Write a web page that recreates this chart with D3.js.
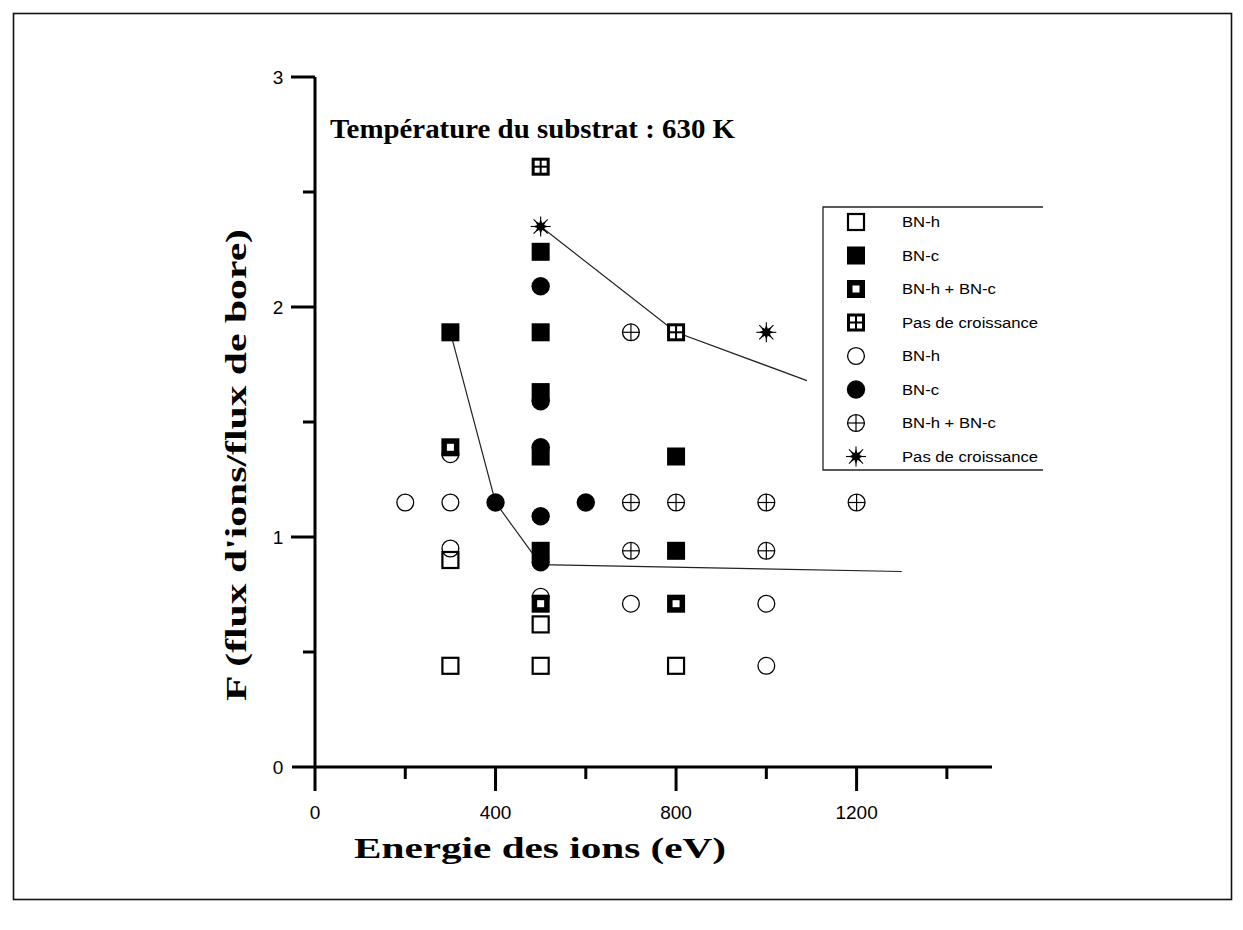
<!DOCTYPE html>
<html>
<head>
<meta charset="utf-8">
<script src="https://cdn.jsdelivr.net/npm/d3@7/dist/d3.min.js"></script>
<style>
  html, body { margin: 0; padding: 0; background: #fff; }
  svg { display: block; }
</style>
</head>
<body>
<svg id="chart" width="1243" height="930"></svg>
<script>
// ---------- data ----------
const xTicksMajor = [0, 400, 800, 1200];
const xTicksMinor = [200, 600, 1000, 1400];
const yTicksMajor = [0, 1, 2, 3];
const yTicksMinor = [0.5, 1.5, 2.5];

// squares
const bnhSquare   = [[300,0.44],[300,0.90],[500,0.44],[500,0.62],[800,0.44]];
const bncSquare   = [[300,1.89],[500,2.24],[500,1.89],[500,1.63],[500,1.35],[500,0.94],[800,1.35],[800,0.94]];
const mixSquare   = [[300,1.39],[500,0.71],[800,0.71]];
const noneSquare  = [[500,2.61],[800,1.89]];
// circles
const bnhCircle   = [[200,1.15],[300,1.15],[300,1.36],[300,0.95],[500,0.74],[700,0.71],[1000,0.71],[1000,0.44]];
const bncCircle   = [[400,1.15],[500,2.09],[500,1.59],[500,1.39],[500,1.09],[500,0.89],[600,1.15]];
const mixCircle   = [[700,1.89],[700,1.15],[800,1.15],[1000,1.15],[1200,1.15],[700,0.94],[1000,0.94]];
const noneStar    = [[500,2.35],[1000,1.89]];
// boundary lines
const upperLine = [[500,2.35],[800,1.89],[1090,1.68]];
const lowerLine = [[300,1.89],[400,1.15],[500,0.88],[1300,0.85]];

const legendLabels = ["BN-h","BN-c","BN-h + BN-c","Pas de croissance","BN-h","BN-c","BN-h + BN-c","Pas de croissance"];
const legendSymbols = ["bnhSquare","bncSquare","mixSquare","noneSquare","bnhCircle","bncCircle","mixCircle","noneStar"];

const titleText = "Température du substrat : 630 K";
const xLabel = "Energie des ions (eV)";
const yLabel = "F (flux d'ions/flux de bore)";

// ---------- layout ----------
const svg = d3.select("#chart");
const x = d3.scaleLinear().domain([0, 1500]).range([315, 992]);
const y = d3.scaleLinear().domain([0, 3]).range([767, 77]);

const SERIF = "'Liberation Serif','Times New Roman',serif";
const SANS = "'Liberation Sans',Arial,sans-serif";

// outer frame
svg.append("rect").attr("x", 13.5).attr("y", 13.5).attr("width", 1218).attr("height", 886)
  .attr("fill", "none").attr("stroke", "#111").attr("stroke-width", 1.6);

// ---------- axes ----------
const axisG = svg.append("g").attr("stroke", "#000").attr("stroke-width", 3).attr("stroke-linecap", "butt");
axisG.append("line").attr("x1", x(0)).attr("x2", x(0)).attr("y1", y(3)).attr("y2", y(0) + 24);
axisG.append("line").attr("x1", x(0) - 23).attr("x2", x(1500)).attr("y1", y(0)).attr("y2", y(0));

axisG.selectAll(".ymaj").data(yTicksMajor.filter(d => d > 0)).join("line")
  .attr("x1", x(0) - 24).attr("x2", x(0)).attr("y1", d => y(d)).attr("y2", d => y(d));
axisG.selectAll(".ymin").data(yTicksMinor).join("line")
  .attr("x1", x(0) - 12).attr("x2", x(0)).attr("y1", d => y(d)).attr("y2", d => y(d));
axisG.selectAll(".xmaj").data(xTicksMajor.filter(d => d > 0)).join("line")
  .attr("x1", d => x(d)).attr("x2", d => x(d)).attr("y1", y(0)).attr("y2", y(0) + 24);
axisG.selectAll(".xmin").data(xTicksMinor).join("line")
  .attr("x1", d => x(d)).attr("x2", d => x(d)).attr("y1", y(0)).attr("y2", y(0) + 12);

svg.append("g").selectAll("text").data(yTicksMajor).join("text")
  .attr("x", 278).attr("y", d => y(d)).attr("dy", "0.36em")
  .attr("text-anchor", "middle").attr("font-family", SANS).attr("font-size", 19)
  .text(d => d);
svg.append("g").selectAll("text").data(xTicksMajor).join("text")
  .attr("x", d => x(d)).attr("y", 812).attr("dy", "0.36em")
  .attr("text-anchor", "middle").attr("font-family", SANS).attr("font-size", 19)
  .text(d => d);

// titles (the original lettering is slightly wide, hence textLength)
svg.append("text").attr("x", 330).attr("y", 138)
  .attr("font-family", SERIF).attr("font-weight", "bold").attr("font-size", 27)
  .attr("textLength", 405).attr("lengthAdjust", "spacingAndGlyphs")
  .text(titleText);
svg.append("text").attr("x", 354).attr("y", 858)
  .attr("font-family", SERIF).attr("font-weight", "bold").attr("font-size", 30)
  .attr("textLength", 372).attr("lengthAdjust", "spacingAndGlyphs")
  .text(xLabel);
svg.append("text").attr("transform", "translate(246,701) rotate(-90)")
  .attr("font-family", SERIF).attr("font-weight", "bold").attr("font-size", 30)
  .attr("textLength", 472).attr("lengthAdjust", "spacingAndGlyphs")
  .text(yLabel);

// ---------- lines ----------
const line = d3.line().x(d => x(d[0])).y(d => y(d[1]));
svg.append("path").datum(upperLine).attr("d", line).attr("fill", "none").attr("stroke", "#222").attr("stroke-width", 1.2);
svg.append("path").datum(lowerLine).attr("d", line).attr("fill", "none").attr("stroke", "#222").attr("stroke-width", 1.2);

// ---------- symbols ----------
function drawSymbol(g, type) {
  const s = 18, h = s / 2;
  if (type === "bnhSquare") {
    g.append("rect").attr("x", -h + 1).attr("y", -h + 1).attr("width", s - 2).attr("height", s - 2)
      .attr("fill", "none").attr("stroke", "#000").attr("stroke-width", 2.2);
  } else if (type === "bncSquare") {
    g.append("rect").attr("x", -h).attr("y", -h).attr("width", s).attr("height", s).attr("fill", "#000");
  } else if (type === "mixSquare") {
    g.append("rect").attr("x", -h).attr("y", -h).attr("width", s).attr("height", s).attr("fill", "#000");
    g.append("rect").attr("x", -3.5).attr("y", -3.5).attr("width", 7).attr("height", 7).attr("fill", "#fff");
  } else if (type === "noneSquare") {
    g.append("rect").attr("x", -h).attr("y", -h).attr("width", s).attr("height", s).attr("fill", "#000");
    [[-6,-6],[1,-6],[-6,1],[1,1]].forEach(p => {
      g.append("rect").attr("x", p[0]).attr("y", p[1]).attr("width", 5).attr("height", 5).attr("fill", "#fff");
    });
  } else if (type === "bnhCircle") {
    g.append("circle").attr("r", 8.4).attr("fill", "none").attr("stroke", "#000").attr("stroke-width", 1.3);
  } else if (type === "bncCircle") {
    g.append("circle").attr("r", 9.2).attr("fill", "#000");
  } else if (type === "mixCircle") {
    g.append("circle").attr("r", 8.4).attr("fill", "none").attr("stroke", "#000").attr("stroke-width", 1.3);
    g.append("line").attr("x1", -8.4).attr("x2", 8.4).attr("stroke", "#000").attr("stroke-width", 1.2);
    g.append("line").attr("y1", -8.4).attr("y2", 8.4).attr("stroke", "#000").attr("stroke-width", 1.2);
  } else if (type === "noneStar") {
    const pts = [];
    for (let i = 0; i < 16; i++) {
      const r = i % 2 === 0 ? 7.5 : 3.8;
      const a = i * Math.PI / 8;
      pts.push([r * Math.sin(a), -r * Math.cos(a)]);
    }
    g.append("polygon").attr("points", pts.map(p => p.join(",")).join(" ")).attr("fill", "#000");
    for (let k = 0; k < 4; k++) {
      const a = k * Math.PI / 4;
      g.append("line").attr("x1", -10 * Math.sin(a)).attr("y1", 10 * Math.cos(a))
        .attr("x2", 10 * Math.sin(a)).attr("y2", -10 * Math.cos(a))
        .attr("stroke", "#000").attr("stroke-width", 1.1);
    }
  }
}

const seriesOrder = [
  ["bnhCircle", bnhCircle], ["mixCircle", mixCircle], ["bncCircle", bncCircle],
  ["bnhSquare", bnhSquare], ["bncSquare", bncSquare], ["mixSquare", mixSquare],
  ["noneSquare", noneSquare], ["noneStar", noneStar]
];
const markG = svg.append("g");
seriesOrder.forEach(([type, data]) => {
  markG.append("g").selectAll("g").data(data).join("g")
    .attr("transform", d => `translate(${x(d[0])},${y(d[1])})`)
    .each(function () { drawSymbol(d3.select(this), type); });
});

// ---------- legend ----------
const lg = svg.append("g");
const lgTop = 207, lgBottom = 470, lgLeft = 823, lgRight = 1043;
lg.append("path").attr("d", `M${lgRight},${lgTop} H${lgLeft} V${lgBottom} H${lgRight}`)
  .attr("fill", "none").attr("stroke", "#222").attr("stroke-width", 1.3);
const rowY = d3.scalePoint().domain(d3.range(legendLabels.length)).range([222, 456.5]);
legendLabels.forEach((lab, i) => {
  const g = lg.append("g").attr("transform", `translate(856,${rowY(i)})`);
  drawSymbol(g, legendSymbols[i]);
  lg.append("g").attr("transform", `translate(902,${rowY(i)}) scale(1.15,1)`)
    .append("text").attr("dy", "0.35em")
    .attr("font-family", SANS).attr("font-size", 14.5).text(lab);
});
</script>
</body>
</html>
